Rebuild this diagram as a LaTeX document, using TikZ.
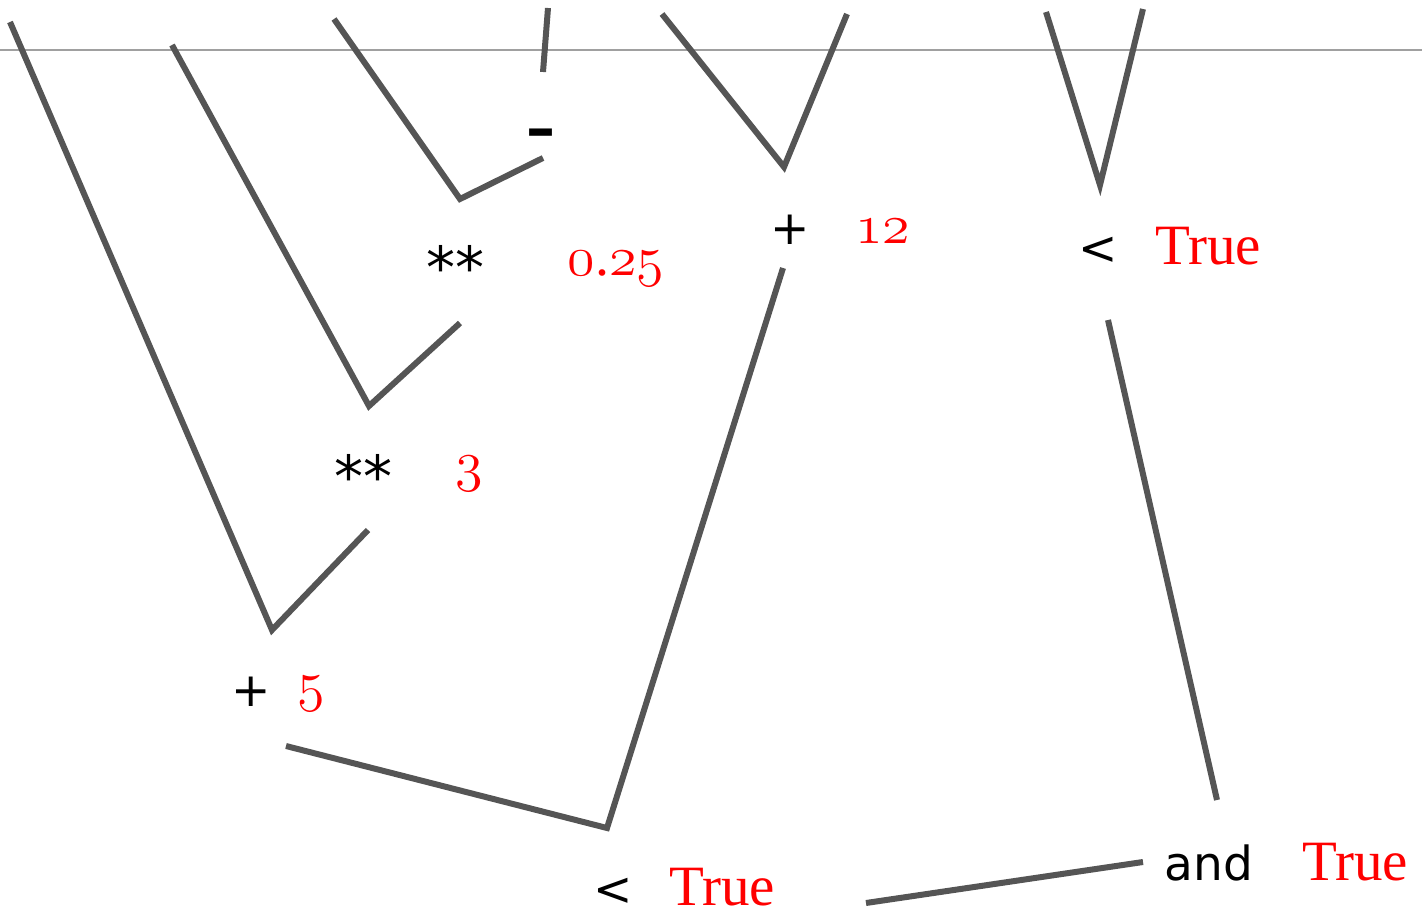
\documentclass[tikz,border=0pt]{standalone}
\usepackage{fix-cm}
\usepackage{fontspec}
\setmainfont{Liberation Serif}
\newfontfamily\opfont{DejaVu Sans}
\newcommand\osn[1]{{\fontencoding{OML}\fontfamily{cmm}\fontseries{m}\fontshape{it}\fontsize{56}{60}\selectfont #1}}
\definecolor{edgegray}{RGB}{85,85,85}
\definecolor{rulegray}{RGB}{160,160,160}
\definecolor{valred}{RGB}{255,0,0}
\tikzset{
  edge/.style={draw=edgegray, line width=6pt},
  oplabel/.style={inner sep=0pt, anchor=base, text=black, font=\opfont\fontsize{47}{51}\selectfont},
  powlabel/.style={oplabel, font=\opfont\fontsize{58}{62}\selectfont},
  vallabel/.style={inner sep=0pt, anchor=base, text=valred, font=\fontsize{57}{61}\selectfont},
  numlabel/.style={inner sep=0pt, anchor=base, text=valred, font=\fontsize{56}{60}\selectfont},
}
\begin{document}
\begin{tikzpicture}[x=1pt, y=-1pt]
\useasboundingbox (0,0) rectangle (1422,915);
% top rule
\coordinate (rl) at (0,50);
\coordinate (rr) at (1422,50);
\draw[rulegray, line width=2pt] (rl) -- (rr);

% labels
\node[oplabel, font=\opfont\bfseries\fontsize{58}{62}\selectfont] (minus) at (541,149) {\textendash};
\node[powlabel] (pow1) at (455,288) {**};
\node[numlabel] (v025) at (616,275) {\osn{0}.\osn{25}};
\node[powlabel] (pow2) at (363,497) {**};
\node[numlabel] (v3) at (469,480) {\osn{3}};
\node[oplabel] (plus1) at (251,706) {+};
\node[numlabel] (v5) at (311,700) {\osn{5}};
\node[oplabel] (plus2) at (790,244) {+};
\node[numlabel] (v12) at (883,243) {\osn{12}};
\node[oplabel] (lt1) at (1098,264) {<};
\node[vallabel] (vt1) at (1208,264) {True};
\node[oplabel] (lt2) at (613,905) {<};
\node[vallabel] (vt2) at (722,905) {True};
\node[oplabel] (and) at (1209,880) {and};
\node[vallabel] (vt3) at (1355,880) {True};

% edge end points
\coordinate (a1) at (10,22);   \coordinate (a2) at (272,630);  \coordinate (a3) at (368,530);
\coordinate (b1) at (172,45);  \coordinate (b2) at (369,406);  \coordinate (b3) at (460,323);
\coordinate (c1) at (334,19);  \coordinate (c2) at (460,199);  \coordinate (c3) at (543,158);
\coordinate (d1) at (548,8);   \coordinate (d2) at (543,72);
\coordinate (e1) at (662,14);  \coordinate (e2) at (784,167);  \coordinate (e3) at (847,14);
\coordinate (f1) at (1046,12); \coordinate (f2) at (1100,185); \coordinate (f3) at (1143,9);
\coordinate (g1) at (286,746); \coordinate (g2) at (607,828);  \coordinate (g3) at (783,268);
\coordinate (h1) at (866,903); \coordinate (h2) at (1143,862);
\coordinate (i1) at (1108,320);\coordinate (i2) at (1217,800);

\draw[edge] (a1) -- (a2) -- (a3);
\draw[edge] (b1) -- (b2) -- (b3);
\draw[edge] (c1) -- (c2) -- (c3);
\draw[edge] (d1) -- (d2);
\draw[edge] (e1) -- (e2) -- (e3);
\draw[edge] (f1) -- (f2) -- (f3);
\draw[edge] (g1) -- (g2) -- (g3);
\draw[edge] (h1) -- (h2);
\draw[edge] (i1) -- (i2);
\end{tikzpicture}
\end{document}
